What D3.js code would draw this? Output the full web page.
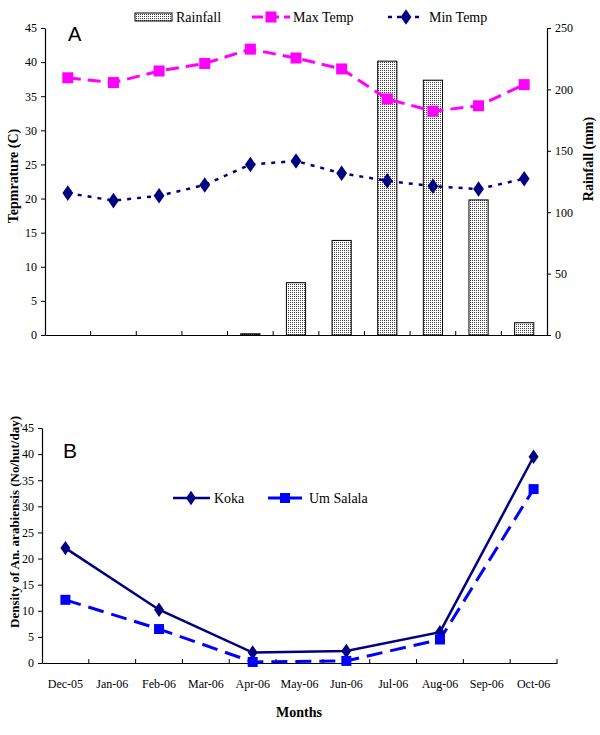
<!DOCTYPE html>
<html><head><meta charset="utf-8">
<script src="https://cdn.jsdelivr.net/npm/d3@7"></script>
<style>body{margin:0;background:#fff}svg{display:block}</style>
</head><body>
<svg id="c" width="600" height="735"></svg>
<script>
const months = ["Dec-05","Jan-06","Feb-06","Mar-06","Apr-06","May-06","Jun-06","Jul-06","Aug-06","Sep-06","Oct-06"];
const rainfall = [0,0,0,0,1,42.6,77,223,207.5,110,10];
const maxTemp = [37.7,37.0,38.7,39.8,41.9,40.6,39.0,34.6,32.8,33.6,36.7];
const minTemp = [20.8,19.7,20.4,22.0,25.0,25.5,23.7,22.6,21.8,21.4,22.9];
const koka = [22.0,null,10.2,null,2.0,null,2.3,null,5.9,null,39.5];
const umSalala = [12.1,null,6.5,null,0.2,null,0.4,null,4.5,null,33.3];
const tempTicks = [0,5,10,15,20,25,30,35,40,45];
const rainTicks = [0,50,100,150,200,250];
const densTicks = [0,5,10,15,20,25,30,35,40,45];

const svg = d3.select("#c");
const serif = "'Liberation Serif','Times New Roman',serif";
const sans = "'Liberation Sans',Arial,sans-serif";

const defs = svg.append("defs");
const pat = defs.append("pattern").attr("id","dots").attr("patternUnits","userSpaceOnUse").attr("width",2).attr("height",2);
pat.append("rect").attr("width",2).attr("height",2).attr("fill","#fff");
pat.append("rect").attr("width",1).attr("height",1).attr("fill","#444");

// ---------- Panel A ----------
const xA = d3.scaleBand().domain(months).range([45,547]).padding(0);
const yT = d3.scaleLinear().domain([0,45]).range([335,28]);
const yR = d3.scaleLinear().domain([0,250]).range([335,28]);

function styleAxis(g){
  g.selectAll("path").attr("stroke","#000").attr("stroke-width",1.2);
  g.selectAll("line").attr("stroke","#000").attr("stroke-width",1);
  g.selectAll("text").attr("font-family",serif).attr("font-size",12).attr("fill","#000");
}

// bars
svg.append("g").selectAll("rect").data(months).join("rect")
  .attr("x",d=>xA(d)+xA.bandwidth()*0.29)
  .attr("width",xA.bandwidth()*0.42)
  .attr("y",(d,i)=>yR(rainfall[i]))
  .attr("height",(d,i)=>yR(0)-yR(rainfall[i]))
  .attr("fill","url(#dots)").attr("stroke","#000").attr("stroke-width",1)
  .attr("display",(d,i)=>rainfall[i]>0?null:"none");

// axes A
const gyL = svg.append("g").attr("transform","translate(45,0)")
  .call(d3.axisLeft(yT).tickValues(tempTicks).tickSize(4).tickSizeOuter(0).tickPadding(4));
styleAxis(gyL);
const gyR = svg.append("g").attr("transform","translate(547,0)")
  .call(d3.axisRight(yR).tickValues(rainTicks).tickSize(4).tickSizeOuter(0).tickPadding(4));
styleAxis(gyR);
const gxA = svg.append("g").attr("transform","translate(0,335)")
  .call(d3.axisBottom(xA).tickSize(0).tickFormat(""));
styleAxis(gxA);
svg.append("g").selectAll("line").data(months.slice(1)).join("line")
  .attr("x1",d=>xA(d)).attr("x2",d=>xA(d)).attr("y1",335).attr("y2",331)
  .attr("stroke","#000");

// lines A
const lineA = d3.line().x((d,i)=>xA(months[i])+xA.bandwidth()/2).y(d=>yT(d));
svg.append("path").datum(maxTemp).attr("d",lineA).attr("fill","none")
  .attr("stroke","#FF00FF").attr("stroke-width",3).attr("stroke-dasharray","13,7");
svg.append("path").datum(minTemp).attr("d",lineA).attr("fill","none")
  .attr("stroke","#000080").attr("stroke-width",2.5).attr("stroke-dasharray","4,6");
svg.append("g").selectAll("rect").data(maxTemp).join("rect")
  .attr("x",(d,i)=>xA(months[i])+xA.bandwidth()/2-5.5).attr("y",d=>yT(d)-5.5)
  .attr("width",11).attr("height",11).attr("fill","#FF00FF");
const diamond = d3.symbol().type(d3.symbolDiamond).size(70);
svg.append("g").selectAll("path").data(minTemp).join("path")
  .attr("d",diamond)
  .attr("transform",(d,i)=>`translate(${xA(months[i])+xA.bandwidth()/2},${yT(d)}) scale(1.2,1)`)
  .attr("fill","#000080");

// A label
svg.append("text").attr("x",68).attr("y",41).attr("font-family",sans).attr("font-size",20).text("A");

// titles A
svg.append("text").attr("transform","translate(18,176) rotate(-90)").attr("text-anchor","middle")
  .attr("font-family",serif).attr("font-weight","bold").attr("font-size",14).text("Tepmrature (C)");
svg.append("text").attr("transform","translate(593,159) rotate(-90)").attr("text-anchor","middle")
  .attr("font-family",serif).attr("font-weight","bold").attr("font-size",14).text("Rainfall (mm)");

// legend A
const lg = svg.append("g").attr("font-family",serif).attr("font-size",14);
lg.append("rect").attr("x",135).attr("y",13).attr("width",37).attr("height",8)
  .attr("fill","url(#dots)").attr("stroke","#000").attr("stroke-width",1);
lg.append("text").attr("x",176).attr("y",22).text("Rainfall");
lg.append("line").attr("x1",252).attr("x2",290).attr("y1",17).attr("y2",17)
  .attr("stroke","#FF00FF").attr("stroke-width",3).attr("stroke-dasharray","11,5");
lg.append("rect").attr("x",265.5).attr("y",11.5).attr("width",11).attr("height",11).attr("fill","#FF00FF");
lg.append("text").attr("x",293).attr("y",22).text("Max Temp");
lg.append("line").attr("x1",388).attr("x2",424).attr("y1",17).attr("y2",17)
  .attr("stroke","#000080").attr("stroke-width",2.5).attr("stroke-dasharray","4,5");
lg.append("path").attr("d",diamond).attr("transform","translate(406,17) scale(1.2,1)").attr("fill","#000080");
lg.append("text").attr("x",429).attr("y",22).text("Min Temp");

// ---------- Panel B ----------
const xB = d3.scaleBand().domain(months).range([42,557]).padding(0);
const yB = d3.scaleLinear().domain([0,45]).range([663,428]);

const gyB = svg.append("g").attr("transform","translate(42,0)")
  .call(d3.axisLeft(yB).tickValues(densTicks).tickSize(4).tickSizeOuter(0).tickPadding(4));
styleAxis(gyB);
const gxB = svg.append("g").attr("transform","translate(0,663)")
  .call(d3.axisBottom(xB).tickSize(0).tickPadding(16).tickSizeOuter(0));
styleAxis(gxB);
svg.append("g").selectAll("line").data(months.slice(1).concat(["END"])).join("line")
  .attr("x1",d=>d==="END"?557:xB(d)).attr("x2",d=>d==="END"?557:xB(d)).attr("y1",663).attr("y2",659)
  .attr("stroke","#000");

const ptsK = months.map((m,i)=>({m,v:koka[i]})).filter(d=>d.v!=null);
const ptsU = months.map((m,i)=>({m,v:umSalala[i]})).filter(d=>d.v!=null);
const lineB = d3.line().x(d=>xB(d.m)+xB.bandwidth()/2).y(d=>yB(d.v));
svg.append("path").datum(ptsU).attr("d",lineB).attr("fill","none")
  .attr("stroke","#0000FF").attr("stroke-width",3).attr("stroke-dasharray","16,8");
svg.append("path").datum(ptsK).attr("d",lineB).attr("fill","none")
  .attr("stroke","#000080").attr("stroke-width",2.5);
svg.append("g").selectAll("path").data(ptsK).join("path")
  .attr("d",d3.symbol().type(d3.symbolDiamond).size(60))
  .attr("transform",d=>`translate(${xB(d.m)+xB.bandwidth()/2},${yB(d.v)}) scale(1.2,1)`)
  .attr("fill","#000080");
svg.append("g").selectAll("rect").data(ptsU).join("rect")
  .attr("x",d=>xB(d.m)+xB.bandwidth()/2-5).attr("y",d=>yB(d.v)-5)
  .attr("width",10).attr("height",10).attr("fill","#0000FF");

svg.append("text").attr("x",63).attr("y",458).attr("font-family",sans).attr("font-size",21).text("B");

// legend B
const lb = svg.append("g").attr("font-family",serif).attr("font-size",14);
lb.append("line").attr("x1",173).attr("x2",210).attr("y1",498).attr("y2",498).attr("stroke","#000080").attr("stroke-width",2.5);
lb.append("path").attr("d",d3.symbol().type(d3.symbolDiamond).size(60)).attr("transform","translate(191,498) scale(1.2,1)").attr("fill","#000080");
lb.append("text").attr("x",214).attr("y",503).text("Koka");
lb.append("line").attr("x1",268).attr("x2",305).attr("y1",498).attr("y2",498).attr("stroke","#0000FF").attr("stroke-width",3).attr("stroke-dasharray","14,6");
lb.append("rect").attr("x",280).attr("y",493).attr("width",10).attr("height",10).attr("fill","#0000FF");
lb.append("text").attr("x",309).attr("y",503).text("Um Salala");

// titles B
svg.append("text").attr("transform","translate(19,522) rotate(-90)").attr("text-anchor","middle")
  .attr("font-family",serif).attr("font-weight","bold").attr("font-size",13).text("Density of An. arabiensis (No/hut/day)");
svg.append("text").attr("x",299).attr("y",717).attr("text-anchor","middle")
  .attr("font-family",serif).attr("font-weight","bold").attr("font-size",14).text("Months");
</script>
</body></html>
